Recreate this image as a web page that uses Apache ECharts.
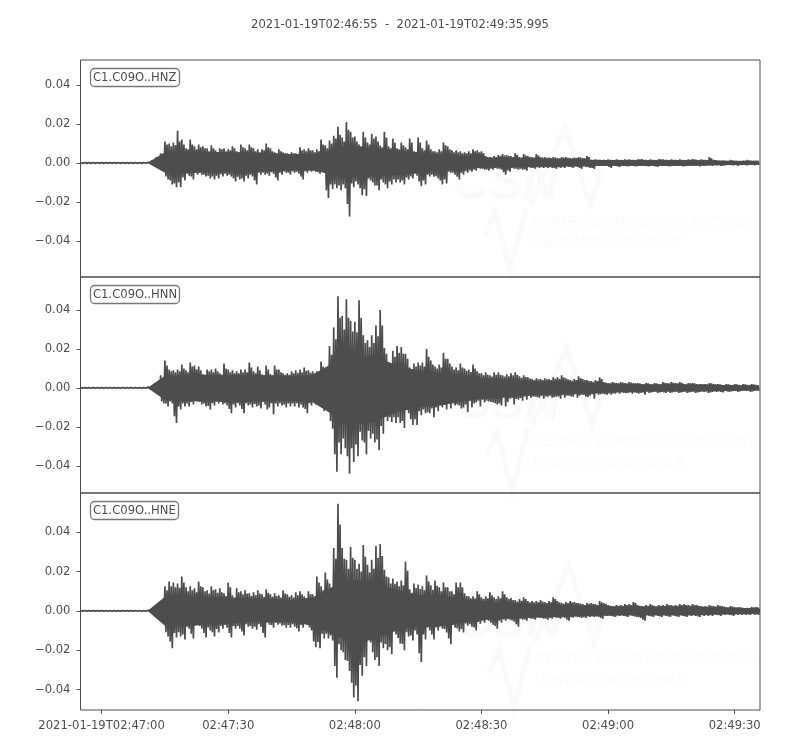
<!DOCTYPE html>
<html>
<head>
<meta charset="utf-8">
<style>html,body{margin:0;padding:0;background:#fff}#c{width:800px;height:750px}</style>
<script src="https://cdn.jsdelivr.net/npm/echarts@6/dist/echarts.min.js"></script>
</head>
<body>
<div id="c"></div>
<script>
// Peak values, one high / low pair per second, in units of 0.0001.
// Every row is ten seconds; the first value is 5 s before 02:47:00.
const hnzUp = [
2,2,2,2,2,2,2,2,2,2,
2,2,2,2,2,2,3,12,30,50,
110,100,105,165,120,75,120,85,95,85,
75,90,65,75,75,70,85,60,95,75,
95,75,70,70,100,75,55,70,55,50,
55,50,80,70,75,65,70,120,90,115,
140,185,130,210,160,135,95,160,105,150,
135,90,160,85,125,75,105,80,125,60,
130,75,115,70,60,70,105,85,65,65,
60,55,60,70,65,60,35,30,35,40,
45,40,35,50,30,45,35,30,45,30,
30,28,30,25,30,30,25,28,30,25,
35,15,18,15,15,18,15,18,15,18,
18,15,18,20,15,18,15,20,18,15,
18,15,18,15,18,20,15,18,15,30,
15,12,12,10,15,12,10,12,15,12,
12];
const hnzLow = [
-2,-2,-2,-2,-2,-2,-2,-2,-2,-2,
-2,-2,-2,-2,-2,-2,-3,-12,-25,-40,
-85,-110,-125,-125,-90,-65,-85,-60,-60,-70,
-80,-85,-80,-70,-65,-70,-95,-85,-95,-80,
-70,-110,-60,-60,-65,-55,-90,-60,-50,-60,
-50,-55,-85,-50,-45,-45,-55,-50,-180,-135,
-130,-140,-130,-275,-125,-110,-165,-170,-90,-115,
-140,-100,-130,-110,-100,-100,-110,-85,-80,-65,
-120,-110,-70,-70,-80,-110,-105,-50,-60,-85,
-60,-50,-45,-40,-30,-35,-40,-35,-30,-35,
-60,-45,-30,-35,-35,-40,-25,-30,-25,-25,
-25,-25,-30,-25,-25,-20,-25,-20,-30,-20,
-25,-30,-15,-15,-15,-25,-15,-20,-15,-18,
-15,-18,-15,-15,-18,-15,-20,-15,-15,-18,
-15,-15,-18,-15,-15,-15,-18,-15,-12,-15,
-12,-15,-12,-10,-12,-15,-10,-12,-10,-12,
-10];
const hnnUp = [
2,2,2,2,2,2,2,2,2,2,
2,2,2,2,2,2,5,12,25,65,
140,95,90,95,120,90,130,115,110,70,
95,95,100,75,125,95,90,85,95,95,
130,85,110,70,115,70,115,95,75,75,
85,90,95,105,90,85,85,135,100,215,
310,470,370,455,345,340,450,270,245,270,
320,400,205,130,190,215,210,175,105,125,
130,130,200,140,110,120,180,150,110,105,
125,100,95,120,85,75,80,65,80,80,
65,70,75,80,60,65,55,45,50,45,
50,45,55,55,65,50,40,45,60,45,
40,35,40,55,30,25,30,25,30,25,
30,25,25,20,25,20,25,20,30,25,
30,25,30,20,25,25,20,20,20,25,
20,20,15,20,15,20,15,20,15,20,
15];
const hnnLow = [
-2,-2,-2,-2,-2,-2,-2,-2,-2,-2,
-2,-2,-2,-2,-2,-2,-5,-15,-30,-80,
-95,-80,-180,-110,-95,-95,-85,-70,-85,-95,
-110,-90,-80,-85,-90,-130,-100,-90,-130,-90,
-100,-95,-105,-85,-100,-135,-95,-90,-100,-95,
-95,-100,-100,-130,-90,-85,-85,-120,-120,-210,
-430,-340,-310,-440,-380,-350,-270,-340,-260,-280,
-320,-235,-170,-175,-180,-180,-205,-130,-190,-190,
-140,-130,-130,-150,-120,-100,-110,-105,-90,-90,
-100,-125,-100,-75,-95,-75,-70,-75,-85,-90,
-95,-55,-85,-60,-65,-60,-50,-45,-50,-55,
-45,-50,-45,-55,-50,-40,-45,-50,-35,-45,
-40,-55,-35,-30,-35,-35,-30,-30,-25,-25,
-30,-25,-25,-35,-25,-20,-25,-20,-25,-25,
-20,-25,-20,-25,-20,-25,-20,-20,-25,-20,
-20,-20,-15,-20,-15,-20,-15,-15,-20,-15,
-15];
const hneUp = [
2,2,2,2,2,2,2,2,2,2,
2,2,2,2,2,2,3,10,25,50,
125,150,145,140,175,120,125,115,150,120,
105,125,110,115,90,145,80,115,100,105,
90,95,105,85,110,85,90,80,105,85,
80,95,100,75,100,85,175,125,195,140,
320,545,320,260,325,260,240,335,235,260,
330,340,210,170,165,150,155,250,110,140,
135,125,180,130,155,120,145,120,100,145,
145,90,75,75,100,70,75,95,70,75,
100,70,65,55,60,70,50,50,50,55,
45,50,70,50,40,45,50,45,40,35,
40,40,35,50,40,30,25,30,30,35,
35,45,30,25,30,35,25,30,30,35,
30,30,35,35,30,35,30,25,25,30,
25,30,25,20,25,20,20,15,15,20,
20];
const hneLow = [
-2,-2,-2,-2,-2,-2,-2,-2,-2,-2,
-2,-2,-2,-2,-2,-2,-3,-10,-20,-45,
-130,-190,-135,-130,-145,-90,-140,-70,-90,-135,
-100,-130,-110,-90,-85,-135,-90,-90,-125,-80,
-90,-95,-80,-135,-70,-85,-70,-75,-85,-85,
-80,-105,-85,-70,-100,-185,-190,-140,-140,-150,
-340,-200,-250,-305,-440,-460,-330,-280,-160,-250,
-280,-190,-200,-220,-120,-165,-200,-130,-150,-120,
-260,-145,-100,-145,-100,-90,-110,-170,-85,-105,
-110,-75,-80,-100,-65,-60,-50,-70,-90,-60,
-50,-45,-55,-80,-45,-50,-40,-45,-35,-40,
-45,-40,-35,-40,-35,-50,-35,-30,-35,-35,
-30,-30,-30,-40,-25,-25,-30,-25,-25,-30,
-25,-30,-35,-50,-25,-30,-25,-30,-25,-30,
-25,-30,-25,-30,-25,-25,-30,-25,-25,-25,
-20,-25,-20,-20,-25,-20,-20,-20,-20,-20,
-20];

// Secondary peaks between the main ones, half a second later, starting 12 s after 02:47:00.
const secondFirst = 12;
const hnzUp2 = [
8,20,40,95,85,90,110,95,70,95,
70,80,75,60,75,55,70,60,65,75,
55,80,65,80,60,55,65,80,60,50,
60,50,45,50,45,65,60,65,55,60,
95,75,100,125,145,110,170,130,110,85,
130,95,125,110,80,130,75,105,70,90,
70,105,55,105,65,95,60,55,60,90,
70,55,55,50,50,50,60,55,50,30,
28,30,35,38,35,30,42,28,38,30,
28,38,28,26,25,27,23,27,26,23,
25,27,23,30,14,16,14,14,16,14,
16,14,16,16,14,18,16,14,16,14,
18,16,14,16,14,16,14,16,18,14,
16,14,24,14,11,11,10,13,11,10,
11,13,11,11];
const hnzLow2 = [
-8,-20,-32,-70,-90,-105,-100,-75,-55,-70,
-50,-50,-60,-65,-70,-65,-58,-55,-60,-80,
-70,-80,-65,-60,-90,-50,-50,-55,-48,-75,
-50,-44,-50,-43,-45,-70,-43,-40,-40,-47,
-45,-140,-110,-110,-115,-110,-210,-105,-95,-130,
-135,-80,-100,-115,-85,-110,-95,-85,-85,-90,
-75,-70,-55,-95,-90,-60,-60,-68,-90,-85,
-45,-50,-70,-50,-42,-38,-35,-26,-30,-33,
-30,-26,-30,-48,-38,-26,-30,-30,-33,-22,
-26,-22,-22,-22,-22,-26,-22,-22,-18,-22,
-18,-26,-18,-22,-25,-14,-14,-14,-20,-14,
-17,-14,-16,-14,-16,-14,-14,-16,-14,-17,
-14,-14,-16,-14,-14,-14,-16,-14,-12,-14,
-12,-14,-12,-10,-11,-13,-10,-11,-10,-11,
-10,-11,-10,-9];
const hnnUp2 = [
10,20,50,115,85,80,85,100,80,110,
95,90,65,85,80,85,65,100,80,75,
75,80,80,105,75,90,65,95,65,95,
80,68,68,75,78,80,88,78,75,75,
110,90,170,250,360,300,360,290,285,360,
230,210,230,265,320,175,115,160,180,175,
150,95,110,115,110,160,120,100,105,150,
125,95,90,105,88,82,100,75,65,68,
58,68,68,58,60,65,68,52,56,48,
40,44,40,44,40,47,47,55,44,36,
40,50,40,35,31,35,46,27,23,27,
23,27,23,27,23,23,18,23,18,23,
18,26,23,26,23,26,18,23,23,18,
18,18,23,18,18,14,18,14,18,14,
18,14,18,14];
const hnnLow2 = [
-12,-25,-68,-80,-70,-145,-95,-80,-80,-72,
-60,-72,-80,-92,-78,-70,-72,-78,-108,-85,
-78,-108,-78,-85,-82,-90,-72,-110,-78,-80,
-78,-85,-80,-80,-78,-85,-108,-78,-72,-72,
-100,-100,-170,-340,-280,-260,-350,-310,-290,-225,
-280,-220,-235,-265,-195,-145,-150,-150,-150,-170,
-110,-160,-160,-120,-110,-125,-105,-100,-90,-88,
-78,-78,-85,-105,-85,-65,-80,-65,-60,-65,
-72,-78,-80,-48,-72,-52,-56,-52,-44,-40,
-44,-48,-40,-44,-40,-48,-44,-36,-40,-44,
-32,-40,-36,-46,-32,-28,-32,-32,-28,-28,
-23,-23,-27,-23,-23,-30,-23,-18,-23,-18,
-23,-23,-18,-23,-18,-23,-18,-23,-18,-23,
-18,-18,-23,-18,-18,-23,-18,-18,-14,-18,
-14,-14,-18,-14];
const hneUp2 = [
8,20,42,105,125,120,118,145,100,105,
95,125,100,88,105,92,95,76,120,68,
95,85,88,76,80,88,72,92,72,76,
68,88,72,68,80,85,64,85,72,145,
105,160,118,265,440,265,215,270,215,200,
275,195,215,270,280,175,140,138,125,130,
205,92,116,112,105,150,108,128,100,120,
100,85,120,120,76,64,64,85,60,64,
80,60,64,85,60,55,48,52,60,44,
44,44,48,40,44,60,44,36,40,44,
40,36,30,36,36,30,44,36,26,22,
26,26,30,30,40,26,22,26,30,22,
26,26,30,26,26,30,30,26,30,26,
22,22,26,22,26,22,18,22,18,18,
14,14,18,18];
const hneLow2 = [
-8,-16,-38,-108,-155,-112,-108,-120,-76,-116,
-60,-76,-112,-84,-108,-92,-76,-72,-112,-76,
-76,-105,-68,-76,-80,-68,-112,-60,-72,-60,
-64,-72,-72,-68,-88,-72,-60,-84,-155,-158,
-116,-116,-125,-280,-170,-210,-255,-365,-380,-275,
-235,-135,-210,-235,-160,-168,-185,-100,-138,-168,
-108,-125,-100,-215,-120,-84,-120,-84,-76,-92,
-140,-72,-88,-92,-64,-68,-84,-56,-50,-44,
-60,-76,-50,-44,-40,-48,-68,-40,-44,-36,
-40,-32,-36,-40,-36,-32,-36,-32,-44,-32,
-28,-32,-32,-28,-28,-28,-36,-22,-22,-28,
-22,-22,-28,-22,-28,-32,-44,-22,-28,-22,
-28,-22,-28,-22,-28,-22,-28,-22,-22,-28,
-22,-22,-22,-18,-22,-18,-18,-22,-18,-18,
-18,-18,-14,-18];

// Extent of the solid core of each trace, same units.
const coreSeconds = [-5,0,5,11,15,20,25,30,35,40,45,50,55,60,65,70,75,80,85,90,95,100,105,110,115,120,125,130,135,140,145,150,155.995];
const hnzCoreUp = [2,2,2,2,55,60,56,56,54,50,44,46,65,85,75,65,55,45,32,28,24,22,20,18,16,15,14,14,14,14,12,10,8];
const hnzCoreLow = [-2,-2,-2,-2,-50,-52,-48,-48,-48,-42,-38,-38,-60,-75,-70,-60,-52,-45,-32,-25,-22,-20,-18,-17,-16,-15,-14,-14,-14,-14,-12,-10,-8];
const hnnCoreUp = [2,2,2,2,62,68,68,68,68,64,62,68,130,170,160,115,90,78,68,50,44,36,32,32,28,22,20,18,18,18,16,14,10];
const hnnCoreLow = [-2,-2,-2,-2,-62,-68,-68,-72,-72,-66,-68,-74,-140,-190,-170,-125,-100,-90,-72,-56,-50,-40,-35,-32,-30,-24,-20,-18,-18,-18,-16,-14,-10];
const hneCoreUp = [2,2,2,2,72,80,72,66,62,62,56,68,125,160,140,105,80,80,62,50,40,36,32,30,26,24,22,22,22,22,18,15,12];
const hneCoreLow = [-2,-2,-2,-2,-76,-80,-68,-66,-56,-56,-56,-75,-120,-170,-140,-100,-80,-80,-62,-46,-40,-36,-32,-30,-25,-24,-22,-22,-22,-22,-18,-15,-12];

const valueUnit = 0.0001;
const firstSecond = -5;
const lastSecond = 155.995;
const stationLabels = ['C1.C09O..HNZ', 'C1.C09O..HNN', 'C1.C09O..HNE'];
const chartTitle = '2021-01-19T02:46:55  -  2021-01-19T02:49:35.995';
const timeTicks = [0, 30, 60, 90, 120, 150];
const timeTickLabels = ['2021-01-19T02:47:00', '02:47:30', '02:48:00', '02:48:30', '02:49:00', '02:49:30'];
const ampTicks = [-0.04, -0.02, 0, 0.02, 0.04];
const yLimits = [[-0.0585, 0.0528], [-0.0539, 0.0569], [-0.0504, 0.0600]];
const tops = [60, 277, 493];
const heights = [217, 216, 217];
const ink = '#4d4d4d';
const font = '"DejaVu Sans", sans-serif';
const fontSize = 11.6;

function trace(up, low, up2, low2) {
  const pts = [];
  up.forEach((u, i) => {
    const t = firstSecond + i;
    const j = t - secondFirst;
    if (j >= 0 && j < up2.length) {
      pts.push([t, u * valueUnit], [t + 0.25, low2[j] * valueUnit],
               [t + 0.5, up2[j] * valueUnit], [t + 0.75, low[i] * valueUnit]);
    } else {
      pts.push([t, u * valueUnit], [t + 0.5, low[i] * valueUnit]);
    }
  });
  return pts;
}
function core(vals) {
  return vals.map((v, i) => [coreSeconds[i], v * valueUnit]);
}
const traces = [trace(hnzUp, hnzLow, hnzUp2, hnzLow2), trace(hnnUp, hnnLow, hnnUp2, hnnLow2), trace(hneUp, hneLow, hneUp2, hneLow2)];
const cores = [[hnzCoreUp, hnzCoreLow], [hnnCoreUp, hnnCoreLow], [hneCoreUp, hneCoreLow]];

const faint = '#fafafa';
const wmFont = 'Liberation Sans';
const marks = [];
[[0, 0], [2, 220], [4, 438]].forEach(([dx, dy]) => {
  const small = { fontFamily: wmFont, fontSize: 15.5, fontStyle: 'italic', fill: faint };
  marks.push(
    { type: 'text', z: -1, silent: true, x: 453 + dx, y: 160 + dy,
      style: { text: 'CSN', fontFamily: wmFont, fontSize: 50, fontStyle: 'italic', fontWeight: 'bold', fill: faint } },
    { type: 'text', z: -1, silent: true, x: 532 + dx, y: 214 + dy, scaleX: 0.86,
      style: Object.assign({ text: 'CENTRO SISMOLÓGICO NACIONAL' }, small) },
    { type: 'text', z: -1, silent: true, x: 531 + dx, y: 235 + dy, scaleX: 0.83,
      style: Object.assign({ text: 'UNIVERSIDAD DE CHILE' }, small) },
    { type: 'polyline', z: -1, silent: true,
      shape: { points: [[530, 205 + dy], [565, 127 + dy], [590, 205 + dy], [602, 170 + dy]].map(p => [p[0] + dx, p[1]]) },
      style: { stroke: faint, fill: null, lineWidth: 5 } },
    { type: 'polyline', z: -1, silent: true,
      shape: { points: [[485, 235 + dy], [495, 212 + dy], [510, 270 + dy], [526, 208 + dy]].map(p => [p[0] + dx, p[1]]) },
      style: { stroke: faint, fill: null, lineWidth: 5 } }
  );
});

const series = [];
traces.forEach((d, i) => {
  series.push({
    type: 'line', xAxisIndex: i, yAxisIndex: i, data: d,
    showSymbol: false, symbol: 'none', silent: true, sampling: false, clip: true,
    lineStyle: { color: ink, width: 1.7 }
  });
  cores[i].forEach(vals => series.push({
    type: 'line', xAxisIndex: i, yAxisIndex: i, data: core(vals),
    showSymbol: false, symbol: 'none', silent: true, clip: true,
    lineStyle: { width: 0 }, areaStyle: { color: ink, opacity: 1 }
  }));
});

const option = {
  animation: false,
  backgroundColor: '#fff',
  graphic: marks,
  title: [
    { text: chartTitle, left: 'center', top: 14,
      textStyle: { fontFamily: font, fontSize: fontSize, fontWeight: 'normal', color: ink } }
  ].concat(stationLabels.map((s, i) => ({
    text: s, left: 90, top: tops[i] + 8,
    padding: [3, 3, 3, 3],
    borderColor: '#777', borderWidth: 1.3, borderRadius: 4, backgroundColor: '#fff',
    textStyle: { fontFamily: font, fontSize: fontSize, fontWeight: 'normal', color: ink, lineHeight: 13 }
  }))),
  grid: tops.map((t, i) => ({
    left: 80.5, right: 40, top: t, height: heights[i],
    show: true, borderColor: ink, borderWidth: 1, backgroundColor: 'transparent', containLabel: false
  })),
  xAxis: tops.map((t, i) => ({
    type: 'value', gridIndex: i, min: firstSecond, max: lastSecond,
    splitLine: { show: false },
    axisLine: { show: false, onZero: false },
    axisTick: { show: i === 2, length: 4, lineStyle: { color: ink }, customValues: timeTicks },
    axisLabel: {
      show: i === 2, customValues: timeTicks, margin: 10, hideOverlap: false,
      fontFamily: font, fontSize: fontSize, color: ink,
      formatter: v => timeTickLabels[timeTicks.indexOf(v)] || ''
    }
  })),
  yAxis: tops.map((t, i) => ({
    type: 'value', gridIndex: i, min: yLimits[i][0], max: yLimits[i][1],
    splitLine: { show: false },
    axisLine: { show: false, onZero: false },
    axisTick: { show: true, length: 4, lineStyle: { color: ink }, customValues: ampTicks },
    axisLabel: {
      show: true, customValues: ampTicks, margin: 10,
      fontFamily: font, fontSize: fontSize, color: ink,
      formatter: v => (v < 0 ? '\u2212' : '') + Math.abs(v).toFixed(2)
    }
  })),
  series: series
};
const chart = echarts.init(document.getElementById('c'), null, { renderer: 'canvas' });
chart.setOption(option);
</script>
</body>
</html>
